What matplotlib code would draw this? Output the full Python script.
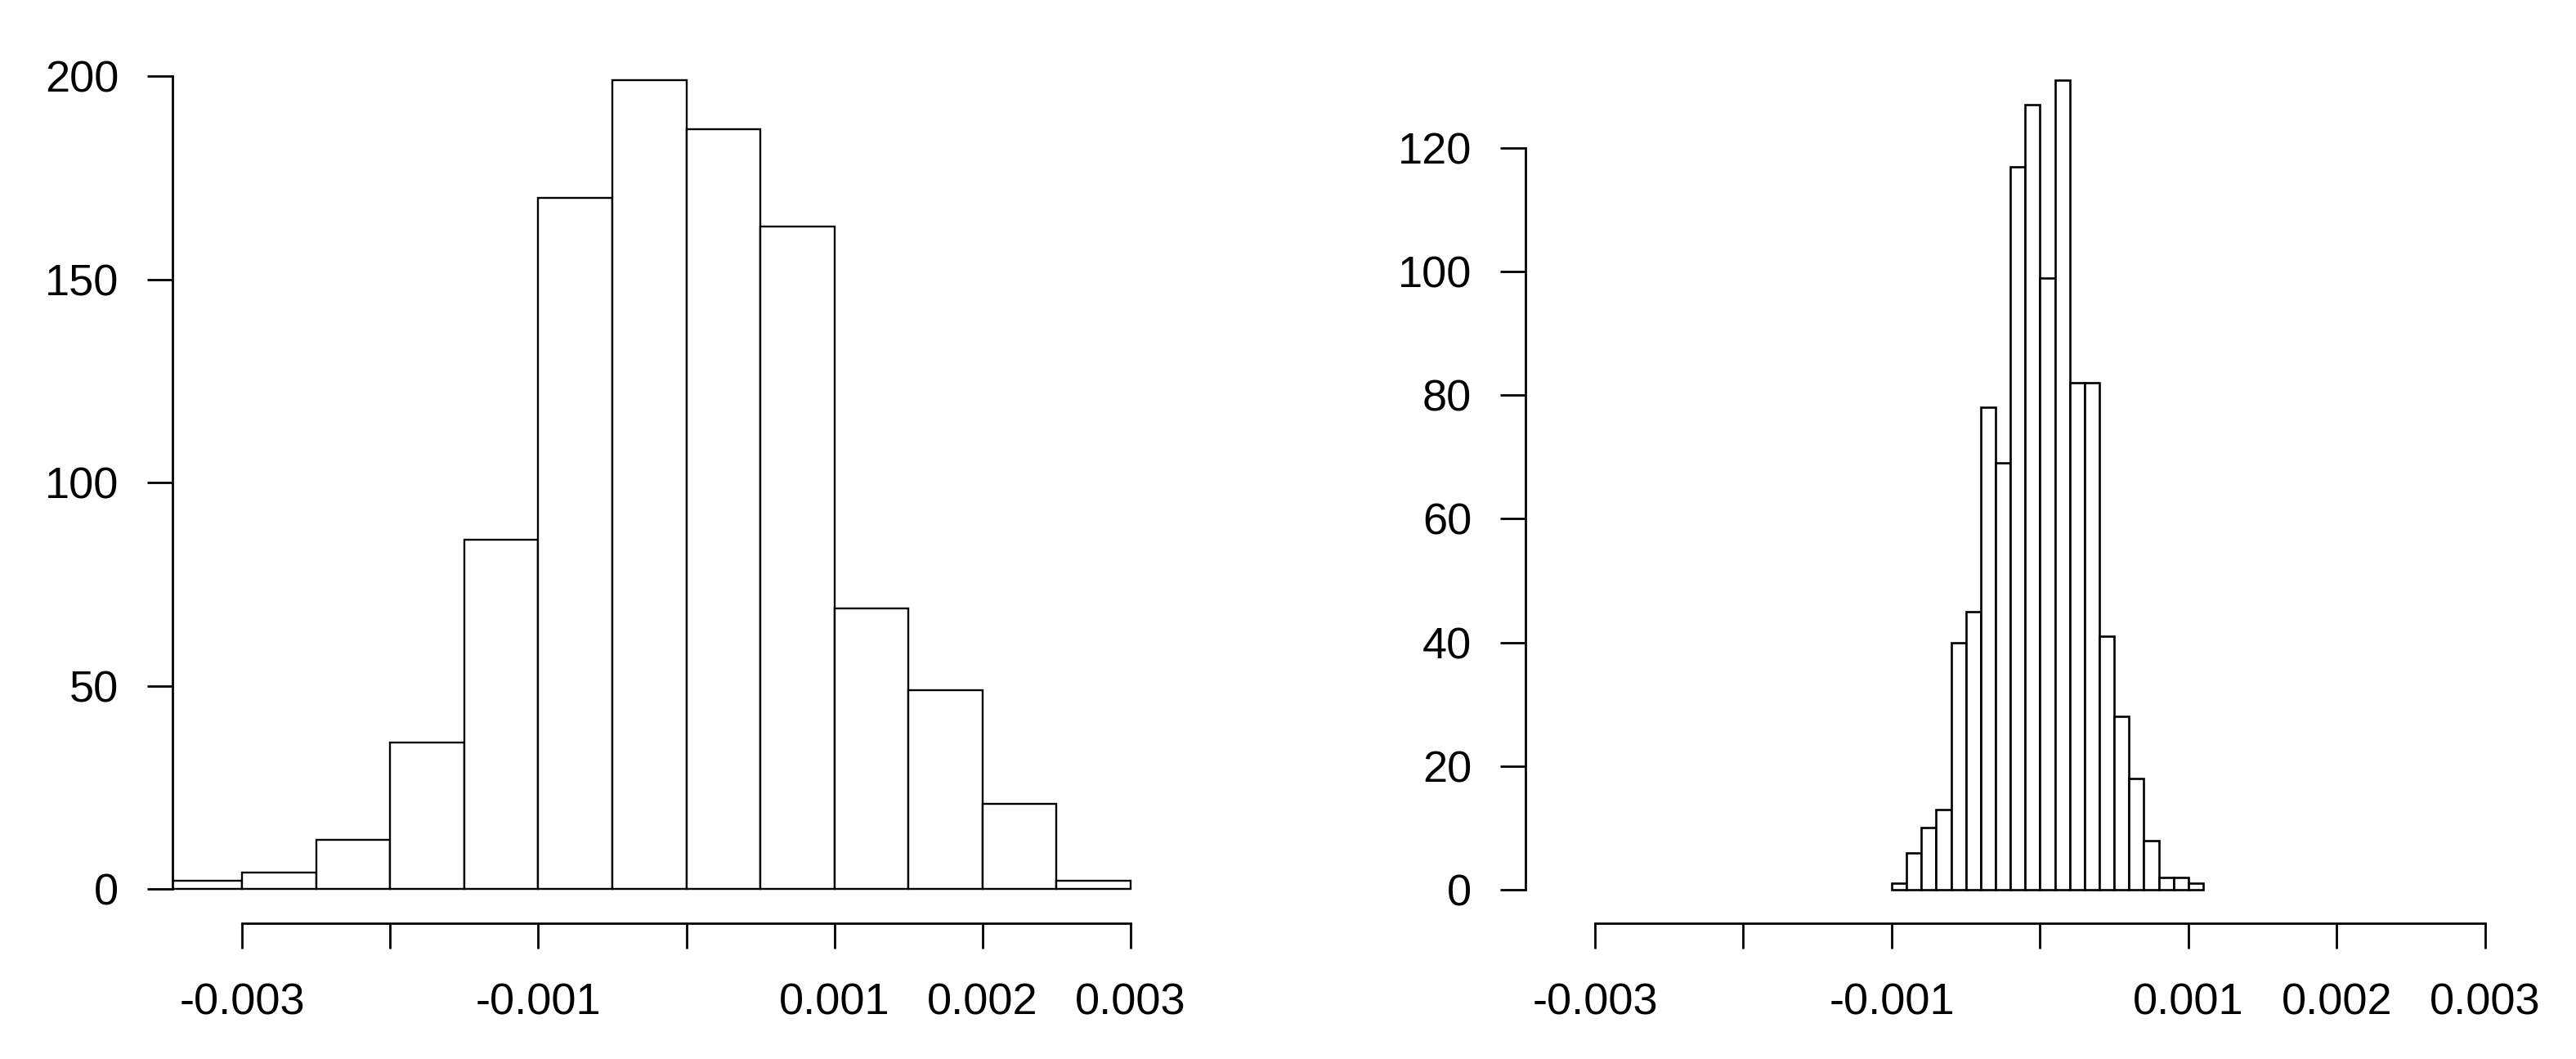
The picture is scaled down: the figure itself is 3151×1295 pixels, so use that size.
import numpy as np
import matplotlib
matplotlib.use('Agg')
import matplotlib.pyplot as plt

# Histogram data (counts per bin)
left_edges = np.arange(-0.0035, 0.0030001, 0.0005)
left_counts = [2, 4, 12, 36, 86, 170, 199, 187, 163, 69, 49, 21, 2]

right_edges = np.arange(-0.0010, 0.0011001, 0.0001)
right_counts = [1, 6, 10, 13, 40, 45, 78, 69, 117, 127, 99, 131,
                82, 82, 41, 28, 18, 8, 2, 2, 1]

x_ticks = [-0.003, -0.002, -0.001, 0.0, 0.001, 0.002, 0.003]
x_labels = ['-0.003', '', '-0.001', '', '0.001', '0.002', '0.003']
left_yticks = [0, 50, 100, 150, 200]
right_yticks = [0, 20, 40, 60, 80, 100, 120]

plt.rcParams['font.family'] = ['Liberation Sans', 'DejaVu Sans']

W, H = 3151, 1295
fig = plt.figure(figsize=(W / 100, H / 100), dpi=100)

# axes boxes in pixels (left, right, top, bottom)
def add_axes(x0, x1, top=58.5, bottom=1129):
    return fig.add_axes([x0 / W, (H - bottom) / H, (x1 - x0) / W, (bottom - top) / H])

def draw_hist(ax, edges, counts, ylim, yticks, lw):
    ax.bar(edges[:-1], counts, width=np.diff(edges), align='edge',
           facecolor='white', edgecolor='black', linewidth=lw)
    ax.set_xlim(-0.00347, 0.0031)
    ax.set_ylim(*ylim)
    for s in ['top', 'right']:
        ax.spines[s].set_visible(False)
    ax.spines['left'].set_bounds(yticks[0], yticks[-1])
    ax.spines['bottom'].set_bounds(x_ticks[0], x_ticks[-1])
    for s in ['left', 'bottom']:
        ax.spines[s].set_linewidth(2.0)
    ax.set_xticks(x_ticks)
    ax.set_xticklabels(x_labels)
    ax.set_yticks(yticks)
    ax.tick_params(axis='both', direction='out', length=22.3, width=2.0,
                   labelsize=39, colors='black')
    ax.tick_params(axis='y', pad=25)
    ax.tick_params(axis='x', pad=30)

ax1 = add_axes(211, 1401)
draw_hist(ax1, left_edges, left_counts, (-8.45, 207.0), left_yticks, 1.7)

ax2 = add_axes(1865.7, 3058)
draw_hist(ax2, right_edges, right_counts, (-5.42, 136.2), right_yticks, 1.9)

fig.savefig('out.png', dpi=100, facecolor='white')
